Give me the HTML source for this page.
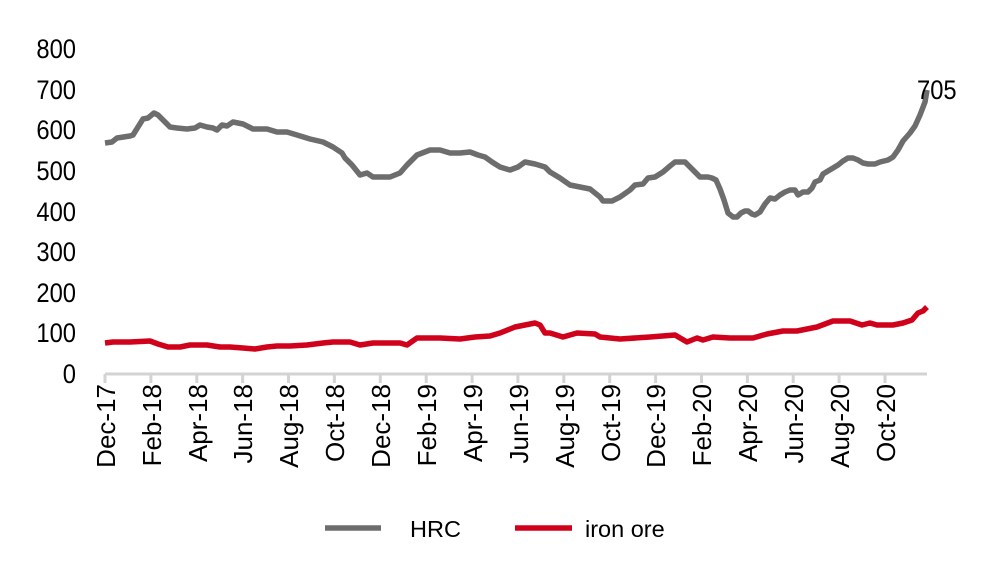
<!DOCTYPE html>
<html><head><meta charset="utf-8"><style>
body{margin:0;background:#fff}
svg text{font-family:"Liberation Sans",sans-serif;fill:#000}
</style></head><body>
<svg width="985" height="568" viewBox="0 0 985 568" xmlns="http://www.w3.org/2000/svg">
<g font-size="27" text-anchor="end">
<text transform="translate(76,58) scale(0.88,1)">800</text>
<text transform="translate(76,99) scale(0.88,1)">700</text>
<text transform="translate(76,139) scale(0.88,1)">600</text>
<text transform="translate(76,180) scale(0.88,1)">500</text>
<text transform="translate(76,221) scale(0.88,1)">400</text>
<text transform="translate(76,261) scale(0.88,1)">300</text>
<text transform="translate(76,302) scale(0.88,1)">200</text>
<text transform="translate(76,342) scale(0.88,1)">100</text>
<text transform="translate(76,383) scale(0.88,1)">0</text>
</g>
<line x1="105" y1="374" x2="927" y2="374" stroke="#d3d3d3" stroke-width="3"/>
<g stroke="#d3d3d3" stroke-width="3">
<line x1="105.0" y1="374" x2="105.0" y2="383"/><line x1="150.9" y1="374" x2="150.9" y2="383"/><line x1="196.8" y1="374" x2="196.8" y2="383"/><line x1="242.6" y1="374" x2="242.6" y2="383"/><line x1="288.5" y1="374" x2="288.5" y2="383"/><line x1="334.4" y1="374" x2="334.4" y2="383"/><line x1="380.3" y1="374" x2="380.3" y2="383"/><line x1="426.2" y1="374" x2="426.2" y2="383"/><line x1="472.1" y1="374" x2="472.1" y2="383"/><line x1="517.9" y1="374" x2="517.9" y2="383"/><line x1="563.8" y1="374" x2="563.8" y2="383"/><line x1="609.7" y1="374" x2="609.7" y2="383"/><line x1="655.6" y1="374" x2="655.6" y2="383"/><line x1="701.5" y1="374" x2="701.5" y2="383"/><line x1="747.4" y1="374" x2="747.4" y2="383"/><line x1="793.2" y1="374" x2="793.2" y2="383"/><line x1="839.1" y1="374" x2="839.1" y2="383"/><line x1="885.0" y1="374" x2="885.0" y2="383"/>
</g>
<g font-size="26" text-anchor="end">
<text transform="translate(115,384) rotate(-90)">Dec-17</text>
<text transform="translate(161,384) rotate(-90)">Feb-18</text>
<text transform="translate(207,384) rotate(-90)">Apr-18</text>
<text transform="translate(252,384) rotate(-90)">Jun-18</text>
<text transform="translate(298,384) rotate(-90)">Aug-18</text>
<text transform="translate(344,384) rotate(-90)">Oct-18</text>
<text transform="translate(390,384) rotate(-90)">Dec-18</text>
<text transform="translate(436,384) rotate(-90)">Feb-19</text>
<text transform="translate(482,384) rotate(-90)">Apr-19</text>
<text transform="translate(528,384) rotate(-90)">Jun-19</text>
<text transform="translate(574,384) rotate(-90)">Aug-19</text>
<text transform="translate(620,384) rotate(-90)">Oct-19</text>
<text transform="translate(665,384) rotate(-90)">Dec-19</text>
<text transform="translate(711,384) rotate(-90)">Feb-20</text>
<text transform="translate(757,384) rotate(-90)">Apr-20</text>
<text transform="translate(803,384) rotate(-90)">Jun-20</text>
<text transform="translate(849,384) rotate(-90)">Aug-20</text>
<text transform="translate(895,384) rotate(-90)">Oct-20</text>
</g>
<polyline fill="none" stroke="#6d6d6d" stroke-width="5.5" stroke-linejoin="round" points="105,143 112,142 117,138 130,136 133,135 143,119 148,118 154,113 158,115 170,127 177,128 187,129 195,128 200,125 207,127 213,128 217,130 222,125 227,126 233,122 243,124 253,129 267,129 277,132 287,132 297,135 310,139 323,142 333,147 342,153 345,158 352,165 360,175 367,173 373,177 390,177 400,173 407,165 417,155 430,150 440,150 450,153 460,153 470,152 478,155 485,157 492,162 500,167 510,170 518,167 525,162 535,164 545,167 550,172 560,178 570,185 580,187 590,189 600,197 603,201 612,201 620,197 630,190 635,185 643,184 648,178 655,177 663,172 670,166 675,162 680,162 685,162 692,169 700,177 708,177 712,178 716,180 720,189 724,200 728,213 733,217 737,217 741,213 745,211 748,211 752,214 755,215 760,212 765,204 770,198 775,199 780,195 785,192 790,190 795,190 798,195 803,192 808,192 812,188 815,182 820,180 823,174 828,171 833,168 838,165 843,161 848,158 853,158 858,160 863,163 868,164 875,164 880,162 888,160 893,157 898,150 903,141 910,133 915,126 920,115 925,102 927,90"/>
<polyline fill="none" stroke="#d0021b" stroke-width="5.5" stroke-linejoin="round" points="105,343 113,342 130,342 150,341 158,344 168,347 180,347 190,345 207,345 220,347 230,347 243,348 255,349 267,347 277,346 290,346 307,345 323,343 333,342 350,342 360,345 373,343 390,343 400,343 407,345 417,338 430,338 440,338 460,339 475,337 490,336 500,333 510,329 515,327 525,325 535,323 540,325 545,333 550,333 563,337 577,333 595,334 600,337 620,339 650,337 675,335 687,342 697,338 703,340 713,337 730,338 753,338 767,334 783,331 797,331 817,327 833,321 850,321 862,325 870,323 877,325 893,325 903,323 912,320 918,313 923,311 927,307"/>
<text transform="translate(917,99) scale(0.88,1)" font-size="27">705</text>
<line x1="325" y1="528" x2="381" y2="528" stroke="#6d6d6d" stroke-width="5.5"/>
<text x="410" y="537" font-size="23.5">HRC</text>
<line x1="515" y1="528" x2="572" y2="528" stroke="#d0021b" stroke-width="5.5"/>
<text x="585" y="537" font-size="23.5">iron ore</text>
</svg>
</body></html>
